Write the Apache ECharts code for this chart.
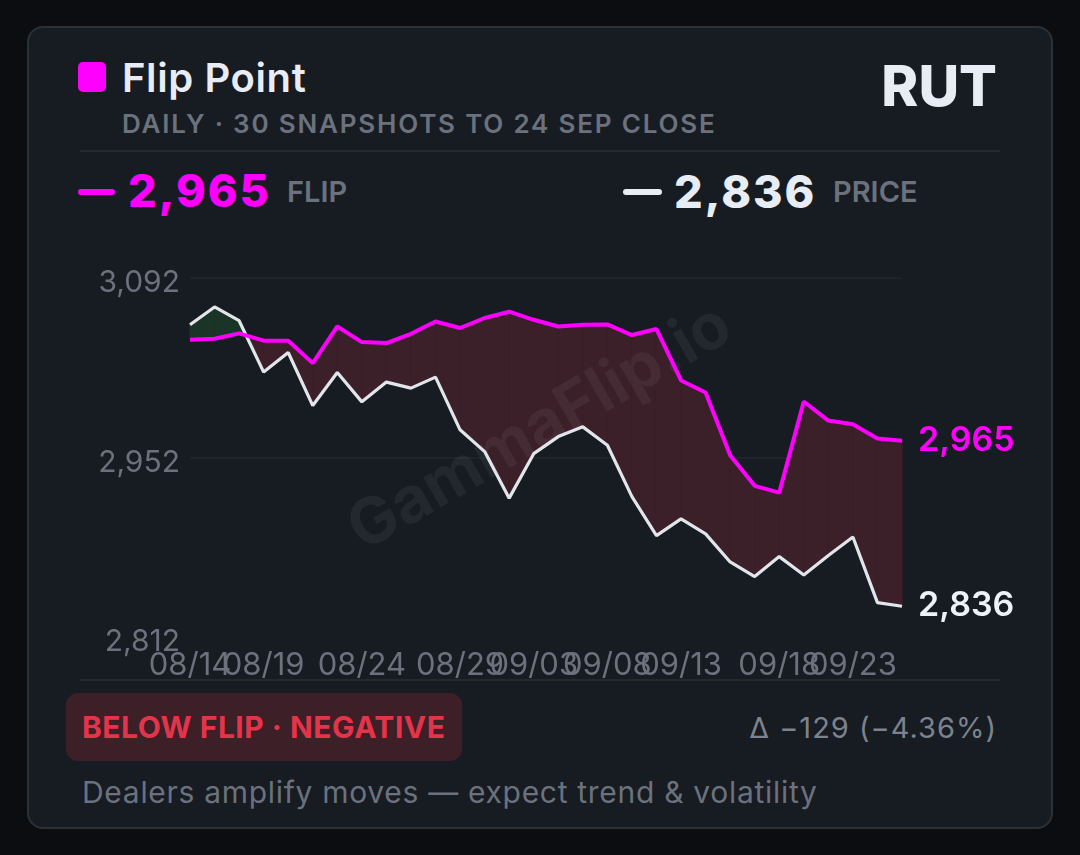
<!DOCTYPE html>
<html>
<head>
<meta charset="utf-8">
<script src="https://cdn.jsdelivr.net/npm/echarts@6/dist/echarts.min.js"></script>
<style>
  html, body { margin: 0; padding: 0; background: #0b0d10; }
  body { width: 1080px; height: 855px; position: relative; overflow: hidden; font-family: Inter, "Noto Sans", sans-serif; }
  .card { position: absolute; left: 27px; top: 26px; width: 1026px; height: 803px; box-sizing: border-box;
          border: 2px solid #2c3037; border-radius: 16px; background: #171b22; }
  .t { position: absolute; white-space: nowrap; line-height: 1; }
  .rule { position: absolute; left: 80px; width: 920px; height: 2px; background: #24282f; }
  #chart { position: absolute; left: 0; top: 0; width: 1080px; height: 855px; }
</style>
</head>
<body>
<div class="card"></div>
<div style="position:absolute;left:78px;top:62px;width:28px;height:30px;border-radius:5px;background:#ff00ff"></div>
<div class="t" style="left:122px;top:58px;font-size:40px;font-weight:600;letter-spacing:0.6px;color:#e8edf5">Flip Point</div>
<div class="t" style="left:122px;top:111px;font-size:26px;font-weight:600;letter-spacing:1.8px;color:#6b727d">DAILY · 30 SNAPSHOTS TO 24 SEP CLOSE</div>
<div class="t" style="right:83px;top:58px;font-size:56px;font-weight:800;color:#e8edf5">RUT</div>
<div class="rule" style="top:150px"></div>

<div style="position:absolute;left:78px;top:189px;width:37px;height:6px;border-radius:3px;background:#ff00ff"></div>
<div class="t" style="left:128px;top:168px;font-size:45px;font-weight:800;letter-spacing:2px;color:#ff00ff">2,965</div>
<div class="t" style="left:287px;top:177px;font-size:29px;font-weight:600;color:#6b727d">FLIP</div>
<div style="position:absolute;left:623px;top:189px;width:39px;height:6px;border-radius:3px;background:#e8edf5"></div>
<div class="t" style="left:674px;top:169px;font-size:45px;font-weight:800;letter-spacing:2px;color:#e8edf5">2,836</div>
<div class="t" style="left:833px;top:177px;font-size:29px;font-weight:600;color:#6b727d">PRICE</div>

<div class="rule" style="top:679px"></div>
<div style="position:absolute;left:66px;top:693px;width:396px;height:68px;border-radius:12px;background:#3d1f27"></div>
<div class="t" style="left:82px;top:712px;font-size:30px;font-weight:700;letter-spacing:0.5px;color:#e3344a">BELOW FLIP · NEGATIVE</div>
<div class="t" style="right:83px;top:713px;font-size:29px;font-weight:400;letter-spacing:1px;color:#7d838d">Δ −129 (−4.36%)</div>
<div class="t" style="left:82px;top:777px;font-size:30px;font-weight:400;letter-spacing:0.7px;color:#6b727d">Dealers amplify moves — expect trend &amp; volatility</div>

<div id="chart"></div>
<script>
// snapshot dates (MM/DD)
var xDates = ['08/14', '08/15', '08/18', '08/19', '08/20', '08/21', '08/22', '08/24', '08/25', '08/26',
              '08/27', '08/29', '09/01', '09/02', '09/03', '09/04', '09/05', '09/08', '09/09', '09/10',
              '09/13', '09/15', '09/16', '09/17', '09/18', '09/19', '09/22', '09/23', '09/23', '09/24'];
// which dates get a label; split over two stacked axes so overlapping labels all stay visible
var xLabelIdxA = [0, 7, 14, 20, 27];
var xLabelIdxB = [3, 11, 17, 24];
var flipValues = [3043.8, 3044.6, 3048.8, 3043.1, 3043.1, 3025.6, 3054.2, 3042.0, 3041.3, 3048.5,
                  3058.1, 3053.0, 3060.8, 3065.7, 3059.4, 3054.2, 3055.5, 3055.8, 3047.5, 3052.2,
                  3012.1, 3002.7, 2953.8, 2929.9, 2924.6, 2995.7, 2980.8, 2978.0, 2966.8, 2965.0];
var priceValues = [3055.5, 3069.4, 3058.7, 3018.6, 3033.9, 2992.5, 3018.3, 2995.4, 3010.8, 3006.1,
                   3014.7, 2973.6, 2956.6, 2920.3, 2955.0, 2968.3, 2975.9, 2961.6, 2921.5, 2891.1,
                   2904.1, 2892.4, 2870.5, 2859.1, 2874.7, 2860.4, 2875.5, 2890.0, 2838.8, 2836.0];
var yTicks = [2812, 2952, 3092];

var fmt = function (v) { return Math.round(v).toLocaleString('en-US'); };

var chart = echarts.init(document.getElementById('chart'), null, { renderer: 'canvas' });

// fill between price and flip, red where price is below, green above
function renderGap(params, api) {
    var i = api.value(0);
    if (i >= priceValues.length - 1) return;
    var p0 = api.coord([i, priceValues[i]]), p1 = api.coord([i + 1, priceValues[i + 1]]);
    var f0 = api.coord([i, flipValues[i]]), f1 = api.coord([i + 1, flipValues[i + 1]]);
    var d0 = priceValues[i] - flipValues[i], d1 = priceValues[i + 1] - flipValues[i + 1];
    var col = function (d) { return d >= 0 ? '#1b3428' : '#3b1f29'; };
    var poly = function (pts, c) {
        return { type: 'polygon', shape: { points: pts }, style: { fill: c, stroke: c, lineWidth: 1 } };
    };
    var parts = [];
    if (d0 * d1 >= 0) {
        parts.push(poly([p0, p1, f1, f0], col(d0 + d1)));
    } else {
        var t = d0 / (d0 - d1);
        var c = [p0[0] + (p1[0] - p0[0]) * t, p0[1] + (p1[1] - p0[1]) * t];
        parts.push(poly([p0, c, f0], col(d0)));
        parts.push(poly([c, p1, f1], col(d1)));
    }
    return { type: 'group', children: parts };
}

function xAxisFor(idxList) {
    return {
        type: 'category',
        position: 'bottom',
        offset: 0,
        data: xDates,
        boundaryGap: false,
        axisLine: { show: false },
        axisTick: { show: false },
        axisLabel: {
            interval: function (idx) { return idxList.indexOf(idx) >= 0; },
            color: '#6b727d',
            fontSize: 31,
            fontFamily: 'Inter',
            margin: 13
        },
        splitLine: { show: false }
    };
}

option = {
    animation: false,
    backgroundColor: 'transparent',
    textStyle: { fontFamily: 'Inter' },
    grid: { left: 190, right: 178, top: 278, bottom: 218 },
    xAxis: [xAxisFor(xLabelIdxA), xAxisFor(xLabelIdxB)],
    yAxis: {
        type: 'value',
        min: yTicks[0],
        max: yTicks[yTicks.length - 1],
        axisLine: { show: false },
        axisTick: { show: false, customValues: yTicks },
        axisLabel: {
            customValues: yTicks,
            formatter: function (v) { return '{v|' + fmt(v) + '}'; },
            margin: 10,
            rich: { v: { color: '#6b727d', fontSize: 30, fontFamily: 'Inter', padding: [10, 0, 0, 0] } }
        },
        splitLine: { show: true, showMinLine: false, lineStyle: { color: '#22262d', width: 1.5 } }
    },
    graphic: [{
        type: 'text',
        x: 540, y: 428,
        rotation: Math.PI / 6,
        z: 1,
        style: {
            text: 'GammaFlip.io',
            font: 'bold 64px Inter',
            fill: 'rgba(255,255,255,0.055)',
            align: 'center',
            verticalAlign: 'middle'
        }
    }],
    series: [
        {
            type: 'custom',
            z: 0,
            xAxisIndex: 0,
            renderItem: renderGap,
            data: xDates.map(function (d, i) { return [i]; }),
            silent: true
        },
        {
            name: 'Price',
            type: 'line',
            z: 3,
            xAxisIndex: 0,
            data: priceValues,
            symbol: 'none',
            lineStyle: { color: '#e2e5ea', width: 3.2 },
            endLabel: { show: true, formatter: function (p) { return fmt(p.value); }, color: '#eef1f6', fontSize: 34, fontWeight: 600, fontFamily: 'Inter', distance: 16 }
        },
        {
            name: 'Flip',
            type: 'line',
            z: 4,
            xAxisIndex: 1,
            data: flipValues,
            symbol: 'none',
            lineStyle: { color: '#ff00ff', width: 4 },
            endLabel: { show: true, formatter: function (p) { return fmt(p.value); }, color: '#ff00ff', fontSize: 34, fontWeight: 600, fontFamily: 'Inter', distance: 16 }
        }
    ]
};
chart.setOption(option);
</script>
</body>
</html>
